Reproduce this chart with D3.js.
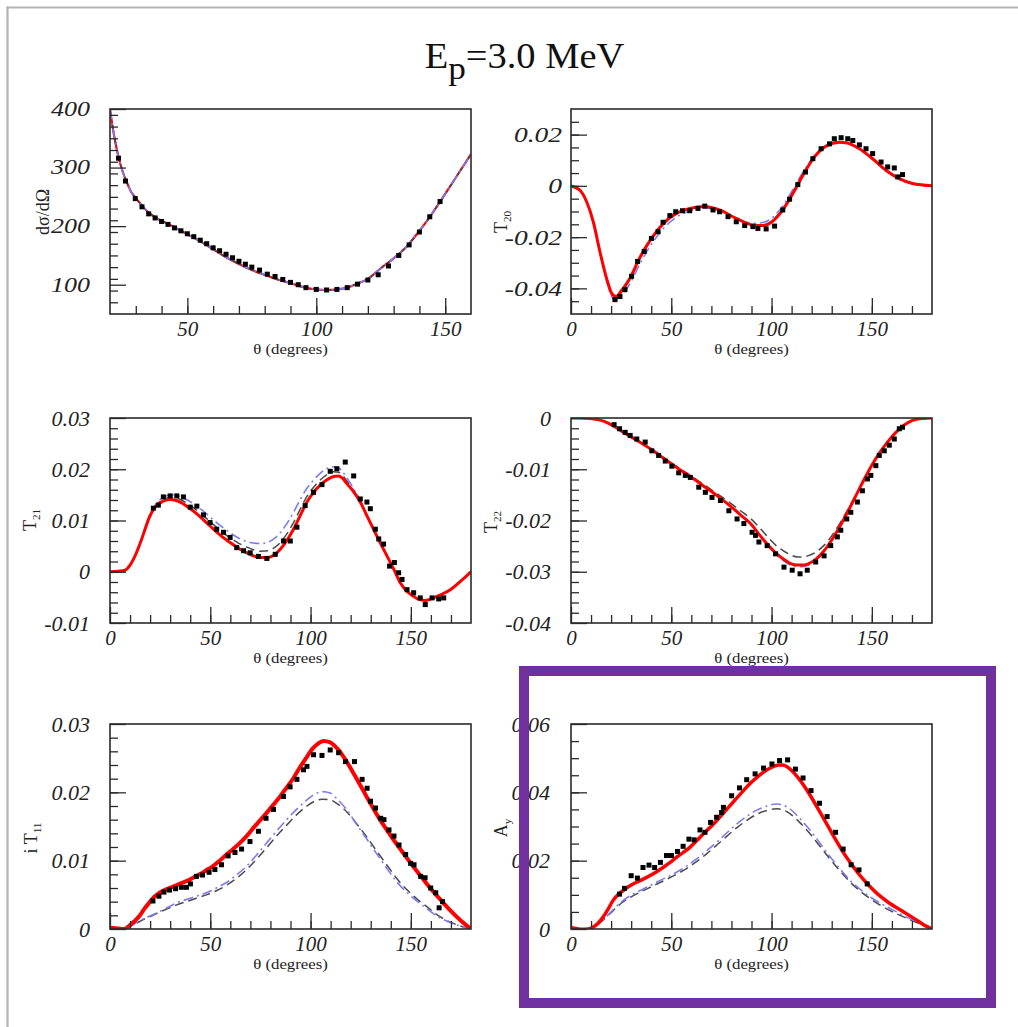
<!DOCTYPE html>
<html>
<head>
<meta charset="utf-8">
<script src="https://cdn.jsdelivr.net/npm/d3@7"></script>
<style>
  html, body { margin: 0; padding: 0; background: #fff; }
  svg { display: block; }
  svg text, svg .serif { font-family: 'Liberation Serif', 'Tinos', 'Times New Roman', 'DejaVu Serif', 'Noto Serif', serif; }
</style>
</head>
<body>
<svg id="fig" width="1018" height="1027"></svg>
<script>
// ---------------- data: [theta (deg), value] ----------------

// differential cross section
const dsigFit = [[20,400],[21,370],[22,345],[23.3,318],[25,292],[26.5,275],[28,260],[29.8,249],[32.4,235],[35,223],[38,214],[41.5,206],[45,198],[50,186],[55,174],[59.8,161],[65,147],[70.2,135],[75,125],[80.6,116],[85,109],[89.8,103],[95,96],[100,92],[104,91],[108,92],[112,95],[116,102],[120,110],[125,128],[130,145],[135,165],[140,192],[145,222],[150,255],[155,289],[160,323]];
const dsigData = [[23.3,316],[26,277],[29.8,247],[32.4,233],[35,221],[37.5,214],[40,208],[42.5,203],[45,197],[47.5,192],[50,187],[52.5,182],[55,176],[57.5,170],[60,163],[62.5,158],[65,152],[67.5,146],[70,140],[72.5,135],[75,130],[78,125],[81,118],[84,114],[87,109],[90,104],[93,100],[96,95],[100,92],[104,91],[108,92],[112,95],[116,101],[120,108],[124,117],[128,132],[132,150],[136,168],[140,190],[144,216],[148,242]];

// T20
const t20Fit = [[0,0],[4.5,-0.0017],[7.8,-0.0062],[11.1,-0.014],[14.4,-0.0256],[17.7,-0.036],[20.5,-0.0422],[22.5,-0.0432],[25,-0.041],[29.4,-0.036],[34.3,-0.028],[40.1,-0.0205],[45.9,-0.0148],[52.6,-0.0107],[59.2,-0.0088],[66.7,-0.008],[74.1,-0.0094],[82.4,-0.0127],[90.7,-0.0153],[95.7,-0.0155],[100.7,-0.0137],[105.6,-0.0094],[110.6,-0.003],[115.6,0.0041],[121.4,0.0113],[127.2,0.0155],[133.8,0.017],[137.1,0.0168],[143.8,0.0145],[150.4,0.0106],[157,0.0061],[163.7,0.0028],[170.3,0.0009],[180,0]];
const t20Blue = [[0,0],[4.5,-0.0017],[7.8,-0.0063],[11.1,-0.0143],[14.4,-0.026],[17.7,-0.0368],[20.5,-0.0435],[22.5,-0.0448],[25,-0.043],[29.4,-0.0382],[34.3,-0.0305],[40.1,-0.0228],[45.9,-0.0168],[52.6,-0.0122],[59.2,-0.0098],[66.7,-0.0086],[74.1,-0.0096],[82.4,-0.0125],[90.7,-0.0146],[95.7,-0.0143],[100.7,-0.0122],[105.6,-0.0078],[110.6,-0.0015],[115.6,0.0053],[121.4,0.0118],[127.2,0.0157],[133.8,0.017],[137.1,0.0167],[143.8,0.0143],[150.4,0.0104],[157,0.006],[163.7,0.0027],[170.3,0.0008],[180,0]];
const t20Dash = [[0,0],[4.5,-0.0017],[7.8,-0.0062],[11.1,-0.0141],[14.4,-0.0258],[17.7,-0.0363],[20.5,-0.0427],[22.5,-0.0438],[25,-0.0417],[29.4,-0.0366],[34.3,-0.0286],[40.1,-0.021],[45.9,-0.0152],[52.6,-0.011],[59.2,-0.009],[66.7,-0.0081],[74.1,-0.0094],[82.4,-0.0126],[90.7,-0.0151],[95.7,-0.0152],[100.7,-0.0133],[105.6,-0.009],[110.6,-0.0026],[115.6,0.0044],[121.4,0.0114],[127.2,0.0155],[133.8,0.0169],[137.1,0.0167],[143.8,0.0144],[150.4,0.0105],[157,0.006],[163.7,0.0027],[170.3,0.0008],[180,0]];
const t20Data = [[21.9,-0.0444],[24.4,-0.0432],[26.9,-0.0405],[30.2,-0.0353],[33.2,-0.0295],[36.5,-0.0256],[40.1,-0.0205],[43.4,-0.0179],[45.9,-0.0142],[49.3,-0.0116],[52.2,-0.0101],[55.6,-0.0097],[59.2,-0.0097],[63.3,-0.0088],[66.7,-0.0079],[70.8,-0.0094],[74.1,-0.0101],[78.3,-0.012],[82.4,-0.014],[86.6,-0.0155],[90.7,-0.0159],[93.2,-0.0166],[97.3,-0.0168],[101.5,-0.0157],[105.6,-0.0094],[109,-0.0052],[113.1,0.0005],[116.9,0.0054],[120.6,0.0106],[124.7,0.0145],[128.9,0.0164],[131.3,0.0184],[134.7,0.0188],[138,0.0184],[140.5,0.0177],[143.8,0.016],[147.1,0.0145],[150.4,0.0126],[154.6,0.0093],[157.9,0.0074],[161.2,0.007],[162.9,0.0035],[165.3,0.0044]];

// T21
const t21Fit = [[0,0],[4,0.0001],[7.5,0.0003],[10,0.0013],[12.5,0.0031],[15,0.0055],[17.5,0.0083],[19.5,0.0105],[21.6,0.0121],[24,0.0132],[26.6,0.0138],[30,0.0141],[33,0.0139],[35,0.0136],[39,0.0126],[43.3,0.0113],[47.5,0.0098],[51.6,0.0083],[55.7,0.0069],[59.9,0.0057],[64,0.0046],[68.2,0.0037],[71.5,0.0031],[74.9,0.0028],[79,0.0028],[82,0.0033],[84.9,0.0044],[88,0.006],[91.5,0.0083],[95,0.0111],[98.2,0.0136],[101.5,0.0155],[104.8,0.0169],[108,0.0179],[111.5,0.0186],[114,0.0187],[116,0.0182],[118.1,0.0172],[121.5,0.0156],[124.8,0.0136],[128,0.011],[131.4,0.0083],[134.8,0.0056],[138.1,0.0031],[141.5,0.0005],[144.8,-0.0022],[148,-0.0038],[151.4,-0.0048],[154,-0.0054],[157.2,-0.0056],[160,-0.0053],[163.1,-0.0048],[166.5,-0.0042],[169.7,-0.0035],[175,-0.0018],[180,0]];
const t21Blue = [[0,0],[4,0.0001],[7.5,0.0003],[10,0.0013],[12.5,0.0032],[15,0.0057],[17.5,0.0086],[19.5,0.0108],[21.6,0.0125],[24,0.0137],[26.6,0.0145],[30,0.015],[33,0.0149],[35,0.0147],[39,0.0139],[43.3,0.0128],[47.5,0.0115],[51.6,0.0101],[55.7,0.0088],[59.9,0.0076],[64,0.0066],[68.2,0.0059],[71.5,0.0056],[74.9,0.0055],[79,0.0058],[82,0.0065],[84.9,0.0076],[88,0.0093],[91.5,0.0116],[95,0.0142],[98.2,0.0163],[101.5,0.0179],[104.8,0.0192],[108,0.0201],[111.5,0.0205],[114,0.0203],[116,0.0195],[118.1,0.0183],[121.5,0.0162],[124.8,0.0139],[128,0.0111],[131.4,0.0083],[134.8,0.0055],[138.1,0.003],[141.5,0.0004],[144.8,-0.0022],[148,-0.0038],[151.4,-0.0048],[154,-0.0053],[157.2,-0.0055],[160,-0.0052],[163.1,-0.0047],[166.5,-0.0041],[169.7,-0.0034],[175,-0.0017],[180,0]];
const t21Dash = [[0,0],[4,0.0001],[7.5,0.0003],[10,0.0013],[12.5,0.0031],[15,0.0056],[17.5,0.0084],[19.5,0.0106],[21.6,0.0122],[24,0.0134],[26.6,0.0141],[30,0.0145],[33,0.0144],[35,0.0141],[39,0.0132],[43.3,0.012],[47.5,0.0106],[51.6,0.0092],[55.7,0.0078],[59.9,0.0066],[64,0.0056],[68.2,0.0048],[71.5,0.0043],[74.9,0.004],[79,0.0041],[82,0.0047],[84.9,0.0057],[88,0.0073],[91.5,0.0096],[95,0.0123],[98.2,0.0147],[101.5,0.0165],[104.8,0.0179],[108,0.0189],[111.5,0.0195],[114,0.0194],[116,0.0188],[118.1,0.0177],[121.5,0.0158],[124.8,0.0137],[128,0.011],[131.4,0.0083],[134.8,0.0055],[138.1,0.003],[141.5,0.0004],[144.8,-0.0022],[148,-0.0038],[151.4,-0.0048],[154,-0.0054],[157.2,-0.0056],[160,-0.0053],[163.1,-0.0048],[166.5,-0.0042],[169.7,-0.0035],[175,-0.0018],[180,0]];
const t21Data = [[21.6,0.0124],[24.1,0.013],[26.6,0.0146],[30,0.0148],[33.3,0.0148],[36.6,0.0146],[40,0.0126],[43.3,0.0128],[46.6,0.0111],[49.9,0.0096],[53.2,0.0083],[56.6,0.0077],[59.9,0.0067],[63.2,0.0047],[66.6,0.0041],[69.9,0.0037],[74,0.003],[78.2,0.0026],[82.4,0.0034],[86.5,0.006],[89.9,0.006],[93.2,0.0087],[97.3,0.0129],[101.5,0.0155],[105.7,0.017],[109.8,0.0196],[113.1,0.0201],[117.3,0.0214],[121.5,0.0187],[124.8,0.0142],[128.1,0.0136],[129.8,0.0123],[132.3,0.0083],[134,0.0064],[136.4,0.0054],[139.4,0.0011],[141.8,0.0018],[143.9,-0.0002],[145.6,-0.0015],[148.1,-0.0035],[151.4,-0.0041],[154.7,-0.0051],[157.2,-0.0064],[160.6,-0.0051],[163.9,-0.0053],[166.4,-0.0051]];

// T22
const t22Fit = [[0,0],[5,0],[9.5,-0.0001],[13,-0.0003],[16.2,-0.0006],[20,-0.0013],[26.2,-0.0028],[33,-0.0044],[39.5,-0.006],[46,-0.0078],[52.8,-0.0097],[59.5,-0.0114],[66.2,-0.0133],[73,-0.0152],[79.5,-0.0172],[84.5,-0.0189],[89.5,-0.0206],[94,-0.0228],[97.8,-0.0246],[102,-0.0263],[106.2,-0.0276],[109.5,-0.0284],[112.8,-0.0287],[115.5,-0.0287],[118,-0.0285],[122,-0.0276],[126,-0.026],[130,-0.0238],[134,-0.0212],[138,-0.0183],[142,-0.0152],[146,-0.0121],[150,-0.0092],[154,-0.0067],[158,-0.0046],[162,-0.0028],[166,-0.0014],[170,-0.0005],[175,-0.0001],[180,0]];
const t22Blue = [[0,0],[5,0],[9.5,-0.0001],[13,-0.0003],[16.2,-0.0006],[20,-0.0013],[26.2,-0.0028],[33,-0.0044],[39.5,-0.006],[46,-0.0078],[52.8,-0.0097],[59.5,-0.0114],[66.2,-0.0133],[73,-0.0152],[79.5,-0.0172],[84.5,-0.0189],[89.5,-0.0207],[94,-0.0229],[97.8,-0.0248],[102,-0.0265],[106.2,-0.0279],[109.5,-0.0287],[112.8,-0.029],[115.5,-0.029],[118,-0.0288],[122,-0.0278],[126,-0.0261],[130,-0.0238],[134,-0.0212],[138,-0.0183],[142,-0.0152],[146,-0.0121],[150,-0.0092],[154,-0.0067],[158,-0.0046],[162,-0.0028],[166,-0.0014],[170,-0.0005],[175,-0.0001],[180,0]];
const t22Dash = [[0,0],[5,0],[9.5,-0.0001],[13,-0.0003],[16.2,-0.0006],[20,-0.0013],[26.2,-0.0028],[33,-0.0044],[39.5,-0.006],[46,-0.0077],[52.8,-0.0095],[59.5,-0.0112],[66.2,-0.013],[73,-0.0148],[79.5,-0.0166],[84.5,-0.0181],[89.5,-0.0196],[94,-0.0214],[97.8,-0.0231],[102,-0.0248],[106.2,-0.026],[109.5,-0.0267],[112.8,-0.0271],[115.5,-0.0271],[118,-0.0269],[122,-0.0262],[126,-0.0249],[130,-0.023],[134,-0.0206],[138,-0.0179],[142,-0.015],[146,-0.012],[150,-0.0092],[154,-0.0067],[158,-0.0046],[162,-0.0028],[166,-0.0014],[170,-0.0005],[175,-0.0001],[180,0]];
const t22Data = [[21.5,-0.0013],[24.2,-0.0021],[27,-0.0028],[29.5,-0.0034],[32.8,-0.0041],[37,-0.0047],[40.3,-0.0064],[43.7,-0.0073],[47,-0.0084],[50.3,-0.0094],[53.7,-0.0107],[57,-0.0112],[59.5,-0.0116],[63.7,-0.0135],[67,-0.0145],[70.3,-0.0155],[74.5,-0.0161],[78.7,-0.0181],[82.8,-0.0197],[86.2,-0.0206],[90.3,-0.0223],[92,-0.0229],[93.7,-0.0242],[97.8,-0.0249],[102,-0.0265],[106.2,-0.0291],[110.3,-0.0297],[114.2,-0.0304],[117.8,-0.0297],[122,-0.0281],[126.2,-0.0269],[129.5,-0.0249],[132.8,-0.0232],[134.5,-0.0219],[137.5,-0.0197],[139.5,-0.0184],[142.8,-0.0164],[145.3,-0.0142],[147.8,-0.0119],[149.5,-0.0112],[152,-0.0093],[153.7,-0.0073],[156.2,-0.0064],[158.7,-0.0053],[161.2,-0.0041],[163.7,-0.0021],[165.3,-0.0018]];

// iT11
const t11Fit = [[0,0.0002],[3,0.0001],[6,0],[8,0.0001],[9.7,0.0005],[12,0.0011],[14.7,0.0019],[17,0.0029],[19.7,0.0039],[22,0.0047],[24.7,0.0053],[28,0.0058],[31.4,0.0062],[34.7,0.0066],[38.1,0.007],[41.4,0.0075],[44.7,0.008],[48,0.0086],[51.4,0.0092],[54.7,0.01],[58.1,0.0109],[61.4,0.0117],[64.8,0.0126],[68.1,0.0136],[71.5,0.0148],[74.8,0.0159],[78.1,0.017],[81.5,0.0182],[84.8,0.0194],[88.1,0.0207],[91.5,0.0221],[94.8,0.0237],[98.2,0.0252],[101,0.0264],[103.2,0.027],[106.5,0.0275],[109.8,0.0273],[112,0.0268],[114,0.0262],[118,0.0245],[122,0.0225],[126,0.0204],[130,0.0183],[134,0.0163],[138,0.0145],[142,0.0128],[146,0.0112],[150,0.0096],[154,0.0081],[158,0.0066],[162,0.0052],[166,0.0039],[170,0.0026],[175,0.0012],[180,0]];
const t11Blue = [[0,0],[5,0],[8,0.0002],[10,0.0004],[13,0.0009],[16,0.0014],[21.4,0.0021],[25,0.0026],[29.7,0.0033],[33,0.0038],[38,0.0043],[43,0.0048],[48,0.0053],[53,0.006],[58.1,0.0068],[63,0.0079],[68.1,0.0092],[73,0.0108],[78.1,0.0126],[83,0.0143],[88.1,0.016],[93,0.0175],[98.2,0.0189],[102,0.0197],[105.7,0.0201],[109.8,0.0199],[113,0.0191],[118.2,0.0174],[123,0.0153],[128.2,0.0131],[133,0.011],[138.2,0.0088],[143,0.0069],[148.2,0.0053],[153,0.0041],[158.3,0.0029],[163,0.0019],[168.3,0.0011],[174,0.0005],[180,0]];
const t11Dash = [[0,0],[5,0],[8,0.0002],[10,0.0004],[13,0.0008],[16,0.0013],[21.4,0.002],[25,0.0025],[29.7,0.0031],[33,0.0035],[38,0.004],[43,0.0045],[48,0.005],[53,0.0056],[58.1,0.0064],[63,0.0074],[68.1,0.0087],[73,0.0102],[78.1,0.0119],[83,0.0136],[88.1,0.0152],[93,0.0167],[98.2,0.018],[102,0.0187],[105.7,0.019],[109.8,0.0189],[113,0.0184],[118.2,0.0171],[123,0.0154],[128.2,0.0134],[133,0.0114],[138.2,0.0093],[143,0.0074],[148.2,0.0057],[153,0.0044],[158.3,0.0032],[163,0.0021],[168.3,0.0012],[174,0.0005],[180,0]];
const t11Data = [[21.4,0.0041],[24.4,0.0048],[26.9,0.0054],[29.7,0.0057],[32.7,0.0059],[35.6,0.0061],[38.1,0.0061],[40.1,0.0066],[43.1,0.0077],[46.1,0.0079],[49.4,0.0083],[52.3,0.0087],[55.6,0.0094],[58.9,0.0107],[62.3,0.0112],[65.6,0.0117],[69.8,0.0128],[74,0.0143],[77.8,0.0162],[81.5,0.0175],[86.5,0.0194],[89.8,0.0208],[93.2,0.0219],[96.5,0.0233],[98.2,0.0238],[101.5,0.0255],[105.7,0.0254],[109.8,0.0262],[114,0.0258],[117.4,0.0245],[121.9,0.0245],[125.7,0.0219],[128.2,0.0206],[129.9,0.0187],[132.4,0.0177],[135,0.0162],[136.6,0.016],[139.1,0.0145],[141.6,0.0136],[144.1,0.0123],[147.4,0.0109],[149.9,0.0096],[151.6,0.0094],[154.9,0.0077],[157.1,0.0075],[159.9,0.006],[162.4,0.0053],[164.1,0.0031],[165.8,0.004]];

// Ay
const ayFit = [[0,0.0004],[3,0.0001],[6,-0.0001],[8.5,0],[10.9,0.0005],[13.5,0.0017],[15.9,0.0034],[18.5,0.0058],[20.9,0.0083],[23.5,0.0101],[25.9,0.0112],[29,0.0125],[32.6,0.0137],[36,0.0146],[39.2,0.0156],[42.5,0.0167],[45.9,0.018],[49.3,0.0194],[52.6,0.021],[56,0.0224],[59.3,0.0239],[62.6,0.0258],[65.9,0.0278],[69.3,0.0297],[72.6,0.0317],[76,0.0339],[79.3,0.0361],[82.6,0.0383],[86,0.0405],[89.3,0.0426],[92.7,0.0444],[96,0.0459],[99.3,0.0471],[101.5,0.0477],[103.5,0.048],[105.5,0.048],[107.7,0.0475],[110,0.0464],[112.7,0.0447],[116,0.0421],[119.4,0.039],[122.7,0.0357],[126,0.0323],[129.4,0.0288],[132.7,0.0254],[136,0.0222],[139.4,0.0193],[142.8,0.0166],[146.1,0.0143],[149.4,0.0122],[152.8,0.0103],[156,0.0088],[159.4,0.0073],[162.8,0.0061],[166.1,0.0049],[169.4,0.0037],[172.8,0.0024],[176,0.0012],[180,0]];
const ayBlue = [[0,0],[5,0],[8,0.0001],[11,0.0006],[14,0.0017],[17,0.0033],[20,0.005],[23,0.0068],[25.9,0.0083],[30,0.0099],[34.2,0.0112],[38.4,0.0124],[42.6,0.0137],[47.6,0.0151],[52.6,0.0166],[57.6,0.0184],[62.6,0.0205],[67.6,0.0229],[72.6,0.0254],[77.6,0.0281],[82.6,0.0307],[87.7,0.033],[92.7,0.0348],[97.7,0.036],[101,0.0365],[102.7,0.0366],[105.5,0.0363],[109.3,0.0351],[114,0.0324],[119.4,0.0288],[124.4,0.0249],[129.4,0.021],[134.4,0.0174],[139.4,0.0141],[144.4,0.0115],[149.4,0.0093],[154.4,0.0075],[159.4,0.0059],[164.4,0.0044],[169.4,0.0029],[175,0.0013],[180,0]];
const ayDash = [[0,0],[5,0],[8,0.0001],[11,0.0006],[14,0.0016],[17,0.0031],[20,0.0048],[23,0.0065],[25.9,0.0079],[30,0.0094],[34.2,0.0107],[38.4,0.0119],[42.6,0.0131],[47.6,0.0145],[52.6,0.016],[57.6,0.0177],[62.6,0.0197],[67.6,0.022],[72.6,0.0245],[77.6,0.0271],[82.6,0.0296],[87.7,0.0318],[92.7,0.0336],[97.7,0.0347],[101,0.0351],[103,0.0352],[105.5,0.0349],[109.3,0.0337],[114,0.0312],[119.4,0.0277],[124.4,0.024],[129.4,0.0203],[134.4,0.0168],[139.4,0.0136],[144.4,0.011],[149.4,0.0088],[154.4,0.0069],[159.4,0.0053],[164.4,0.0039],[169.4,0.0026],[175,0.0012],[180,0]];
const ayData = [[24.2,0.0102],[26.7,0.0119],[30,0.0156],[33.1,0.0149],[35.9,0.018],[38.9,0.0187],[41.7,0.018],[44.6,0.0195],[47.6,0.0215],[50.1,0.0215],[53.1,0.0227],[55.9,0.0242],[58.8,0.0263],[61.4,0.0261],[64.3,0.029],[66.8,0.0283],[69.6,0.0312],[72.6,0.0327],[75.1,0.0341],[76,0.0356],[80.1,0.039],[84,0.0413],[87.6,0.0437],[91.8,0.0454],[96,0.0471],[100.2,0.0483],[104,0.0493],[108,0.0495],[111.9,0.0468],[115.7,0.0442],[119.7,0.0405],[123.9,0.0368],[127.7,0.0329],[131.9,0.0283],[135.7,0.0234],[139.7,0.0188],[143.6,0.0173],[147.7,0.0132]];

// tick values
const thetaTicks = [0, 50, 100, 150];
const dsigThetaTicks = [50, 100, 150];
const dsigTicks = [100, 200, 300, 400];
const t20Ticks = [-0.04, -0.02, 0, 0.02];
const t21Ticks = [-0.01, 0, 0.01, 0.02, 0.03];
const t22Ticks = [-0.04, -0.03, -0.02, -0.01, 0];
const t11Ticks = [0, 0.01, 0.02, 0.03];
const ayTicks = [0, 0.02, 0.04, 0.06];

// ---------------- drawing ----------------
const svg = d3.select('#fig');
const W = 361, H = 205;
const colX = [110, 571];
const rowY = [109, 418, 724];

// page frame (top and left edge lines)
svg.append('line').attr('x1', 7.5).attr('y1', 6.5).attr('x2', 7.5).attr('y2', 1027)
  .attr('stroke', '#b4b4b4').attr('stroke-width', 2.2);
svg.append('line').attr('x1', 6.5).attr('y1', 7.5).attr('x2', 1018).attr('y2', 7.5)
  .attr('stroke', '#b4b4b4').attr('stroke-width', 2.2);

// title
const title = svg.append('text').attr('class', 'serif')
  .attr('transform', 'translate(524.5,68) scale(1.1,1)')
  .attr('text-anchor', 'middle')
  .attr('font-size', 35).attr('fill', '#111');
title.append('tspan').text('E');
title.append('tspan').attr('dy', 11).attr('font-size', 32).text('p');
title.append('tspan').attr('dy', -11).text('=3.0 MeV');

const panels = [
  { col: 0, row: 0, xDomain: [20, 160], xTicks: dsigThetaTicks, yDomain: [50, 400], yTicks: dsigTicks, yMinor: 20,
    fit: dsigFit, blue: dsigFit, dash: dsigFit, data: dsigData, redWidth: 2.2, redUnder: true,
    yPad: 20, yFont: 20, ySx: 1.3,
    label: [['dσ/dΩ']], labelAt: [49, 212], labelFont: 18 },
  { col: 1, row: 0, xDomain: [0, 180], xTicks: thetaTicks, yDomain: [-0.05, 0.03], yTicks: t20Ticks, yMinor: 0.005,
    fit: t20Fit, blue: t20Blue, dash: t20Dash, data: t20Data, redWidth: 3,
    yPad: 9, yFont: 22, ySx: 1.25,
    label: [['T'], ['20', 'sub']], labelAt: [507, 222], labelFont: 18 },
  { col: 0, row: 1, xDomain: [0, 180], xTicks: thetaTicks, yDomain: [-0.01, 0.03], yTicks: t21Ticks, yMinor: 0.002,
    fit: t21Fit, blue: t21Blue, dash: t21Dash, data: t21Data, redWidth: 3,
    yPad: 20, yFont: 22, ySx: 1,
    label: [['T'], ['21', 'sub']], labelAt: [36, 520], labelFont: 18 },
  { col: 1, row: 1, xDomain: [0, 180], xTicks: thetaTicks, yDomain: [-0.04, 0], yTicks: t22Ticks, yMinor: 0.002,
    fit: t22Fit, blue: t22Blue, dash: t22Dash, data: t22Data, redWidth: 3,
    yPad: 20, yFont: 22, ySx: 1,
    label: [['T'], ['22', 'sub']], labelAt: [497, 522], labelFont: 18 },
  { col: 0, row: 2, xDomain: [0, 180], xTicks: thetaTicks, yDomain: [0, 0.03], yTicks: t11Ticks, yMinor: 0.002,
    fit: t11Fit, blue: t11Blue, dash: t11Dash, data: t11Data, redWidth: 4,
    yPad: 20, yFont: 22, ySx: 1,
    label: [['i T'], ['11', 'sub']], labelAt: [37, 838], labelFont: 18 },
  { col: 1, row: 2, xDomain: [0, 180], xTicks: thetaTicks, yDomain: [0, 0.06], yTicks: ayTicks, yMinor: 0.005,
    fit: ayFit, blue: ayBlue, dash: ayDash, data: ayData, redWidth: 3.5,
    yPad: 21, yFont: 22, ySx: 1,
    label: [['A'], ['y', 'sub']], labelAt: [507, 828], labelFont: 18 }
];

const fmt = d => (d === 0 ? '0' : String(d));

panels.forEach((p, i) => {
  const x0 = colX[p.col], y0 = rowY[p.row];
  const g = svg.append('g').attr('transform', `translate(${x0},${y0})`);
  const x = d3.scaleLinear().domain(p.xDomain).range([0, W]);
  const y = d3.scaleLinear().domain(p.yDomain).range([H, 0]);

  // minor tick positions
  const [ylo, yhi] = p.yDomain;
  const nY = Math.round((yhi - ylo) / p.yMinor);
  const yMinorVals = d3.range(1, nY).map(k => ylo + k * p.yMinor);
  const [xlo, xhi] = p.xDomain;
  const xMinorVals = d3.range(Math.ceil(xlo / 10) * 10, xhi + 0.001, 10).filter(v => v > xlo && v < xhi);

  // curves, clipped to the frame
  const clipId = 'clip' + i;
  g.append('clipPath').attr('id', clipId).append('rect').attr('width', W).attr('height', H);
  const plot = g.append('g').attr('clip-path', `url(#${clipId})`);
  const line = d3.line().x(d => x(d[0])).y(d => y(d[1])).curve(d3.curveMonotoneX);

  const drawRed = () => plot.append('path').datum(p.fit).attr('d', line).attr('fill', 'none')
    .attr('stroke', '#ff0000').attr('stroke-width', p.redWidth).attr('stroke-linejoin', 'round');
  if (p.redUnder) drawRed();
  plot.append('path').datum(p.dash).attr('d', line).attr('fill', 'none')
    .attr('stroke', '#4a4a4a').attr('stroke-width', 1.5).attr('stroke-dasharray', '9,5');
  plot.append('path').datum(p.blue).attr('d', line).attr('fill', 'none')
    .attr('stroke', '#7c7cf2').attr('stroke-width', 1.6).attr('stroke-dasharray', '10,4,2,4');
  if (!p.redUnder) drawRed();

  // measured points
  const s = 5;
  plot.selectAll('rect.pt').data(p.data).join('rect').attr('class', 'pt')
    .attr('x', d => x(d[0]) - s / 2).attr('y', d => y(d[1]) - s / 2)
    .attr('width', s).attr('height', s).attr('fill', '#000');

  // axes: ticks point inward
  const axL = g.append('g').call(d3.axisLeft(y).tickValues(yMinorVals).tickSize(-8).tickFormat(''));
  const axL2 = g.append('g').call(d3.axisLeft(y).tickValues(p.yTicks).tickSize(-16).tickSizeOuter(0).tickPadding(p.yPad).tickFormat(fmt));
  const axB = g.append('g').attr('transform', `translate(0,${H})`)
    .call(d3.axisBottom(x).tickValues(xMinorVals).tickSize(-8).tickFormat(''));
  const axB2 = g.append('g').attr('transform', `translate(0,${H})`)
    .call(d3.axisBottom(x).tickValues(p.xTicks).tickSize(-16).tickSizeOuter(0).tickPadding(7).tickFormat(fmt));

  [axL, axL2, axB, axB2].forEach(a => {
    a.attr('font-family', null);
    a.select('.domain').remove();
    a.selectAll('.tick line').attr('stroke', '#2a2a2a').attr('stroke-width', 1.3);
  });
  axL2.selectAll('.tick text').attr('class', 'serif')
    .attr('font-style', 'italic').attr('font-size', p.yFont).attr('fill', '#222')
    .attr('x', -p.yPad / p.ySx).attr('transform', `scale(${p.ySx},1)`);
  axB2.selectAll('.tick text').attr('class', 'serif')
    .attr('font-style', 'italic').attr('font-size', 21).attr('fill', '#222');

  // frame
  g.append('rect').attr('width', W).attr('height', H).attr('fill', 'none')
    .attr('stroke', '#2a2a2a').attr('stroke-width', 1.6);

  // x title
  g.append('text').attr('class', 'serif')
    .attr('transform', `translate(${W / 2},${H + 40}) scale(1.2,1)`)
    .attr('text-anchor', 'middle').attr('font-size', 14).attr('fill', '#222')
    .text('θ (degrees)');

  // y title
  const yt = svg.append('text').attr('class', 'serif')
    .attr('transform', `translate(${p.labelAt[0]},${p.labelAt[1]}) rotate(-90)`)
    .attr('text-anchor', 'middle').attr('font-size', p.labelFont).attr('fill', '#222');
  p.label.forEach(([t, kind]) => {
    const ts = yt.append('tspan').text(t);
    if (kind === 'sub') ts.attr('font-size', p.labelFont * 0.62).attr('dy', 4);
  });
});

// highlight box around the A_y panel
svg.append('rect').attr('x', 524).attr('y', 671).attr('width', 467).attr('height', 332)
  .attr('fill', 'none').attr('stroke', '#7030a0').attr('stroke-width', 10);
</script>
</body>
</html>
